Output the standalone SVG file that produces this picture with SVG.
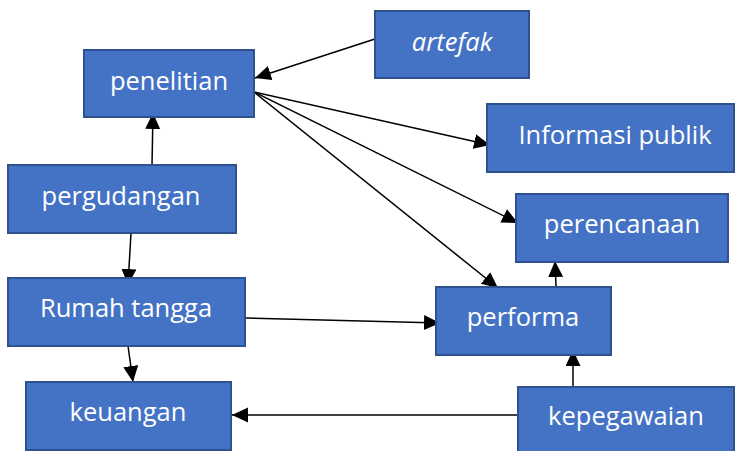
<svg xmlns="http://www.w3.org/2000/svg" width="735" height="451" viewBox="0 0 735 451">
  <defs>
    <style>
      .box { fill: #4472C4; stroke: #2F528F; stroke-width: 2; }
      .lbl { fill: #FFFFFF; font-family: "Open Sans", "Liberation Sans", sans-serif; font-size: 25.5px; text-anchor: middle; }
      .it { font-style: italic; }
      .edge { stroke: #000000; stroke-width: 1.5; fill: none; marker-end: url(#head); }
    </style>
    <marker id="head" markerUnits="userSpaceOnUse" markerWidth="18" markerHeight="16" refX="16" refY="7.5" orient="auto">
      <path d="M0,0 L16,7.5 L0,15 Z" fill="#000000"/>
    </marker>
  </defs>
  <rect width="735" height="451" fill="#FFFFFF"/>

  <g id="connectors">
    <line class="edge" x1="378" y1="38" x2="255" y2="78"/>
    <line class="edge" x1="254" y1="92" x2="490" y2="145"/>
    <line class="edge" x1="254" y1="92" x2="518" y2="223"/>
    <line class="edge" x1="254" y1="92" x2="498" y2="288"/>
    <line class="edge" x1="152" y1="165" x2="153" y2="113"/>
    <line class="edge" x1="131" y1="233" x2="128" y2="285"/>
    <line class="edge" x1="128" y1="346" x2="133" y2="382"/>
    <line class="edge" x1="246" y1="318" x2="440" y2="323"/>
    <line class="edge" x1="556" y1="286" x2="555" y2="261"/>
    <line class="edge" x1="573" y1="387" x2="573" y2="350"/>
    <line class="edge" x1="524" y1="415" x2="232" y2="415"/>
  </g>

  <g id="penelitian">
    <rect class="box" x="84" y="50" width="170" height="67"/>
    <text class="lbl" x="169" y="90">penelitian</text>
  </g>
  <g id="artefak">
    <rect class="box" x="375" y="11" width="154" height="67"/>
    <text class="lbl it" x="452" y="51">artefak</text>
  </g>
  <g id="informasi-publik">
    <rect class="box" x="487" y="104" width="247" height="68"/>
    <text class="lbl" x="615" y="144">Informasi publik</text>
  </g>
  <g id="pergudangan">
    <rect class="box" x="8" y="165" width="228" height="68"/>
    <text class="lbl" x="121" y="205">pergudangan</text>
  </g>
  <g id="perencanaan">
    <rect class="box" x="516" y="194" width="212" height="68"/>
    <text class="lbl" x="622" y="233">perencanaan</text>
  </g>
  <g id="rumah-tangga">
    <rect class="box" x="8" y="278" width="237" height="68"/>
    <text class="lbl" x="126" y="317">Rumah tangga</text>
  </g>
  <g id="performa">
    <rect class="box" x="436" y="287" width="175" height="68"/>
    <text class="lbl" x="523" y="326">performa</text>
  </g>
  <g id="keuangan">
    <rect class="box" x="26" y="382" width="205" height="68"/>
    <text class="lbl" x="128" y="421">keuangan</text>
  </g>
  <g id="kepegawaian">
    <rect class="box" x="518" y="387" width="216" height="68"/>
    <text class="lbl" x="626" y="425">kepegawaian</text>
  </g>
</svg>
